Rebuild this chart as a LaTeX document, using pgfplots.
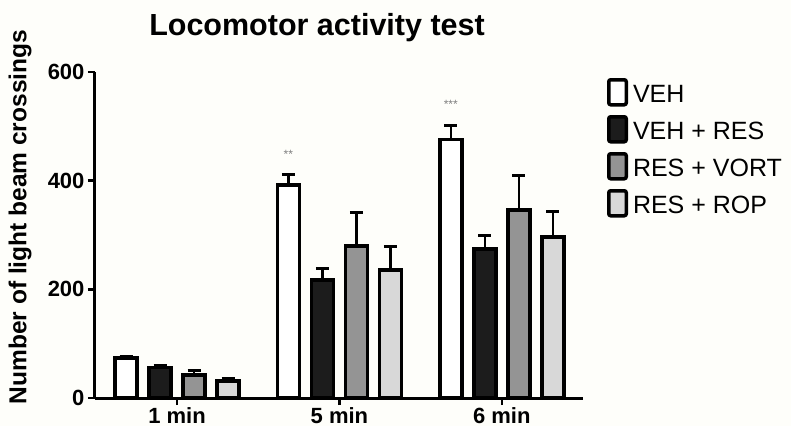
\documentclass[border=0pt]{standalone}
\usepackage{fontspec}
\setmainfont{Liberation Sans}
\usepackage{pgfplots}
\pgfplotsset{compat=1.18}

\definecolor{barblack}{RGB}{28,28,28}
\definecolor{bargray}{RGB}{148,148,148}
\definecolor{barlight}{RGB}{216,216,216}
\definecolor{paper}{RGB}{254,254,250}

\newcommand{\fs}[1]{\fontsize{#1}{#1}\selectfont}

\pgfplotsset{
  legbox/.style={legend image code/.code={
    \draw[##1, line width=3.5pt, rounded corners=2pt] (0pt,-10pt) rectangle (17.5pt,15pt);}},
  errstyle/.style={error bars/.cd, y dir=plus, y explicit,
    error mark=|,
    error bar style={line width=2.5pt, black},
    error mark options={line width=3pt, mark size=6.5pt, black}},
}

\begin{document}
\begin{tikzpicture}
\fill[paper] (-95pt,-28pt) rectangle (696pt,398pt);
\begin{axis}[
  scale only axis,
  width=488pt, height=326pt,
  at={(0,0)}, anchor=south west,
  ybar=12pt, bar width=22pt,
  xmin=-0.505, xmax=2.5,
  ymin=0, ymax=600,
  ytick={0,200,400,600},
  xtick={0,1,2},
  xticklabels={1 min,5 min,6 min},
  axis lines*=left,
  axis line style={line width=3pt, -},
  tick align=outside,
  major tick length=7pt,
  tick style={line width=2.5pt, black},
  /pgf/number format/assume math mode=true,
  ticklabel style={font=\bfseries\fs{22}},
  xticklabel style={anchor=base, inner sep=0pt, text depth=0pt, yshift=-18pt},
  title={\bfseries Locomotor activity test},
  title style={font=\fs{30.5}, at={(axis description cs:0.455,1)}, anchor=base, yshift=31pt},
  ylabel={\bfseries Number of light beam crossings},
  ylabel style={font=\fs{24.5}, at={(axis description cs:-0.1537,0.555)}, anchor=center},
  legend style={draw=none, fill=none, inner sep=0pt, outer sep=0pt,
    at={(axis description cs:1.0492,0.9816)}, anchor=north west,
    font=\fs{25}, row sep=8.5pt, column sep=5pt,
    nodes={inner sep=0pt}},
  legend cell align=left,
  clip=false,
]
\addplot[fill=white, draw=black, line width=3.5pt, legbox, errstyle]
  coordinates {(0,74) +- (0,2) (1,392) +- (0,19) (2,476) +- (0,25)};
\addplot[fill=barblack, draw=black, line width=3.5pt, legbox, errstyle]
  coordinates {(0,56) +- (0,4) (1,217) +- (0,21) (2,274) +- (0,26)};
\addplot[fill=bargray, draw=black, line width=3.5pt, legbox, errstyle]
  coordinates {(0,42) +- (0,8) (1,280) +- (0,61) (2,346) +- (0,63)};
\addplot[fill=barlight, draw=black, line width=3.5pt, legbox, errstyle]
  coordinates {(0,31) +- (0,4) (1,236) +- (0,42) (2,296) +- (0,47)};
\legend{VEH, VEH + RES, RES + VORT, RES + ROP}

% significance marks above the VEH bars
\node[font=\fs{12}, text=gray] at ([xshift=-51pt]axis cs:1,449) {**};
\node[font=\fs{12}, text=gray] at ([xshift=-51pt]axis cs:2,540) {***};
\end{axis}
\pgfresetboundingbox
\useasboundingbox (-95pt,-28pt) rectangle (696pt,398pt);
\end{tikzpicture}
\end{document}
